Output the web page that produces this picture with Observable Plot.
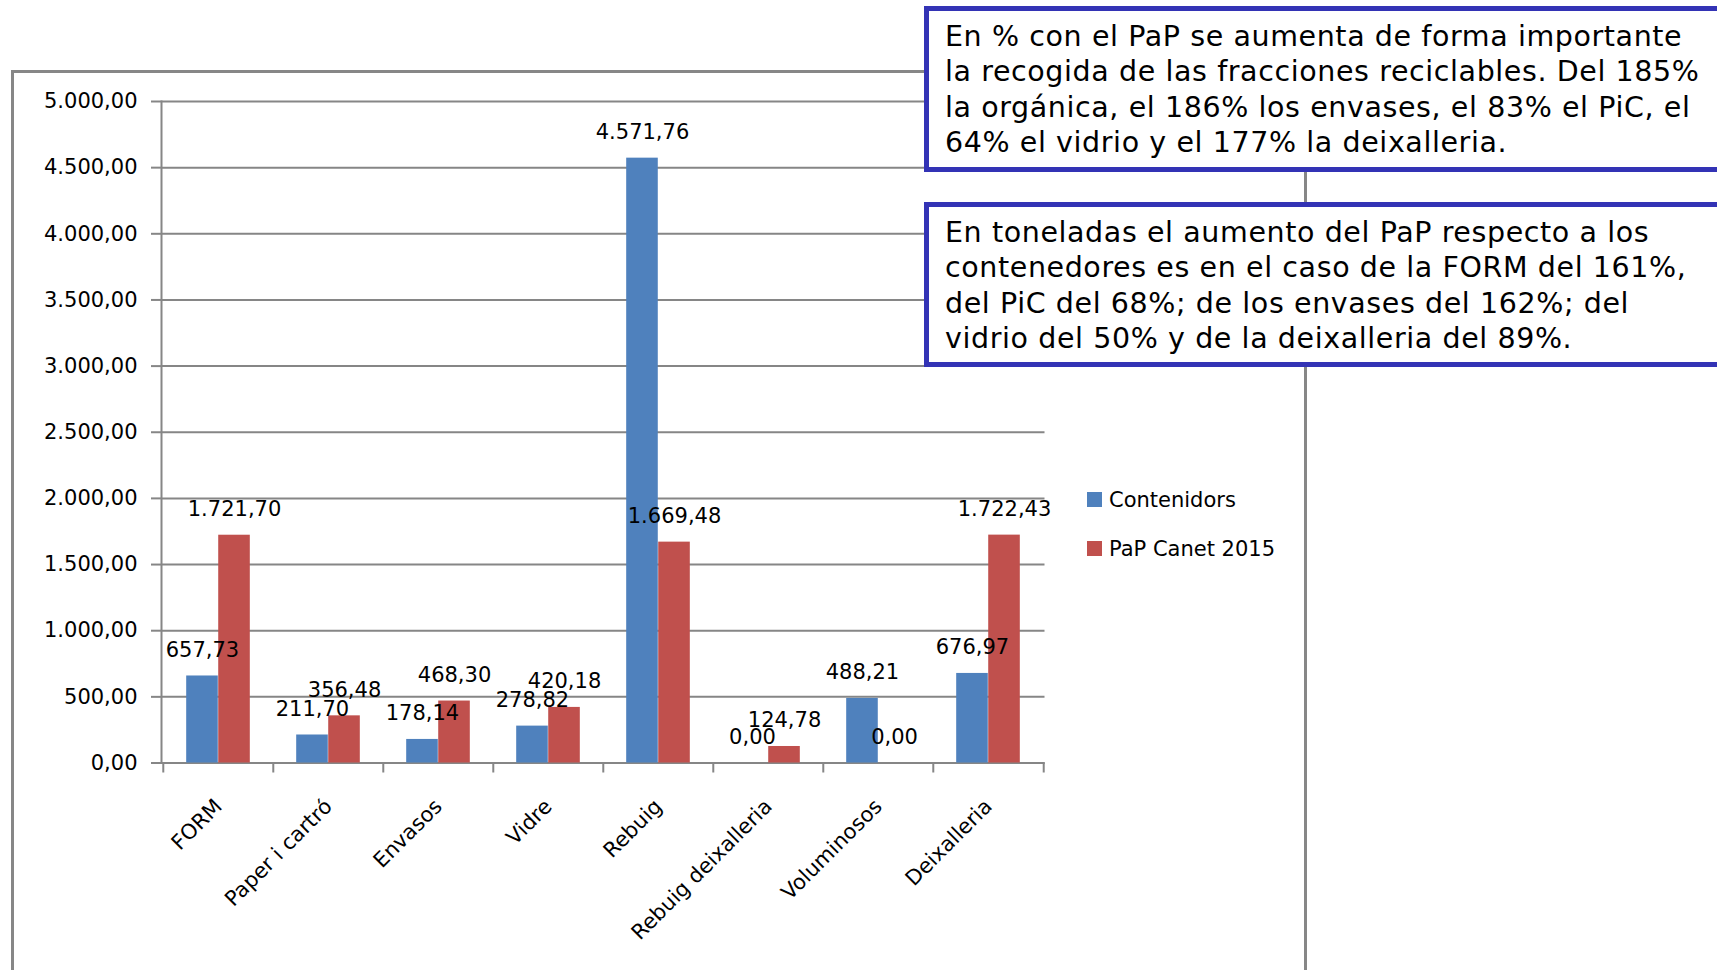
<!DOCTYPE html>
<html>
<head>
<meta charset="utf-8">
<script src="https://cdn.jsdelivr.net/npm/d3@7"></script>
<script src="https://cdn.jsdelivr.net/npm/@observablehq/plot@0.6"></script>
<style>
  html, body { margin: 0; padding: 0; background: #fff; }
  body { width: 1717px; height: 970px; overflow: hidden; position: relative; font-family: "DejaVu Sans", sans-serif; }
  #frame { position: absolute; left: 11px; top: 70px; width: 1296px; height: 1000px; border: 3px solid #878787; border-bottom: none; box-sizing: border-box; }
  #chart { position: absolute; left: 0; top: 0; }
  #legend { position: absolute; left: 1087px; top: 488px; font-family: "DejaVu Sans", sans-serif; font-size: 21px; color: #000; }
  .li { display: flex; align-items: center; height: 23px; margin-bottom: 26px; }
  .sw { width: 15px; height: 15px; margin-right: 7px; }
  .note { position: absolute; left: 924px; width: 840px; box-sizing: border-box; border: 5px solid #3333B5; background: #fff;
          padding: 7.8px 0 0 16px; font-family: "DejaVu Sans", sans-serif; font-size: 28.5px; letter-spacing: 0.6px; line-height: 35.4px; color: #000; white-space: pre; }
</style>
</head>
<body>
<div id="frame"></div>
<div id="chart"></div>
<div id="legend"></div>
<div class="note" id="note1" style="top:6px;height:166px;"></div>
<div class="note" id="note2" style="top:202px;height:165px;"></div>
<script>
// ---- data ----
const categories = ["FORM", "Paper i cartró", "Envasos", "Vidre", "Rebuig", "Rebuig deixalleria", "Voluminosos", "Deixalleria"];
const series = ["Contenidors", "PaP Canet 2015"];
const contenidors = [657.73, 211.70, 178.14, 278.82, 4571.76, 0.00, 488.21, 676.97];
const papCanet2015 = [1721.70, 356.48, 468.30, 420.18, 1669.48, 124.78, 0.00, 1722.43];
const yTicks = [0, 500, 1000, 1500, 2000, 2500, 3000, 3500, 4000, 4500, 5000];
const colors = ["#4F81BD", "#C0504D"];
const note1Lines = [
  "En % con el PaP se aumenta de forma importante",
  "la recogida de las fracciones reciclables. Del 185%",
  "la orgánica, el 186% los envases, el 83% el PiC, el",
  "64% el vidrio y el 177% la deixalleria."
];
const note2Lines = [
  "En toneladas el aumento del PaP respecto a los",
  "contenedores es en el caso de la FORM del 161%,",
  "del PiC del 68%; de los envases del 162%; del",
  "vidrio del 50% y de la deixalleria del 89%."
];

// ---- layout ----
const W = 1310, H = 970;
const mL = 161, mR = W - 1044.5, mT = 101, mB = H - 762.5;
const step = (W - mL - mR) / categories.length;
const gap = step * 0.21, barW = step * 0.29;
const grey = "#868686";

const es = d3.formatLocale({decimal: ",", thousands: ".", grouping: [3], currency: ["", " €"]});
const fmt = es.format(",.2f");

const data = categories.flatMap((c, i) => [
  {category: c, series: series[0], value: contenidors[i]},
  {category: c, series: series[1], value: papCanet2015[i]}
]);
const s0 = data.filter(d => d.series === series[0]);
const s1 = data.filter(d => d.series === series[1]);

const chart = Plot.plot({
  width: W, height: H,
  marginLeft: mL, marginRight: mR, marginTop: mT, marginBottom: mB,
  style: {fontFamily: "DejaVu Sans", fontSize: "21px", color: "#000", background: "transparent", overflow: "visible"},
  x: {type: "band", domain: categories, padding: 0},
  y: {domain: [0, 5000]},
  color: {domain: series, range: colors},
  marks: [
    Plot.gridY(yTicks, {stroke: grey, strokeOpacity: 1, strokeWidth: 2}),
    Plot.axisY(yTicks, {tickSize: 10, tickPadding: 14, tickFormat: fmt, stroke: grey, strokeWidth: 2, strokeOpacity: 1, fill: "#000", label: null}),
    Plot.frame({anchor: "left", stroke: grey, strokeWidth: 2}),
    Plot.ruleY([0], {stroke: grey, strokeWidth: 2}),
    Plot.axisX(categories, {tickSize: 10, tickFormat: () => "", dx: -step / 2, stroke: grey, strokeWidth: 2, strokeOpacity: 1, label: null}),
    Plot.axisX([categories[categories.length - 1]], {tickSize: 10, tickFormat: () => "", dx: step / 2, stroke: grey, strokeWidth: 2, strokeOpacity: 1, label: null}),
    Plot.axisX(categories, {tickSize: 0, tickPadding: 40, tickRotate: -45, fill: "#000", label: null}),
    Plot.barY(s0, {x: "category", y: "value", fill: "series", insetLeft: gap, insetRight: step - gap - barW}),
    Plot.barY(s1, {x: "category", y: "value", fill: "series", insetLeft: gap + barW, insetRight: step - gap - 2 * barW}),
    Plot.text(s0, {x: "category", y: "value", text: d => fmt(d.value), dx: gap + barW / 2 - step / 2, dy: -26, fill: "#000"}),
    Plot.text(s1, {x: "category", y: "value", text: d => fmt(d.value), dx: gap + 1.5 * barW - step / 2, dy: -26, fill: "#000"})
  ]
});
document.getElementById("chart").appendChild(chart);

// legend
const legend = document.getElementById("legend");
series.forEach((s, i) => {
  const row = document.createElement("div");
  row.className = "li";
  const sw = document.createElement("span");
  sw.className = "sw";
  sw.style.background = colors[i];
  const t = document.createElement("span");
  t.textContent = s;
  row.appendChild(sw); row.appendChild(t);
  legend.appendChild(row);
});

document.getElementById("note1").textContent = note1Lines.join("\n");
document.getElementById("note2").textContent = note2Lines.join("\n");
</script>
</body>
</html>
